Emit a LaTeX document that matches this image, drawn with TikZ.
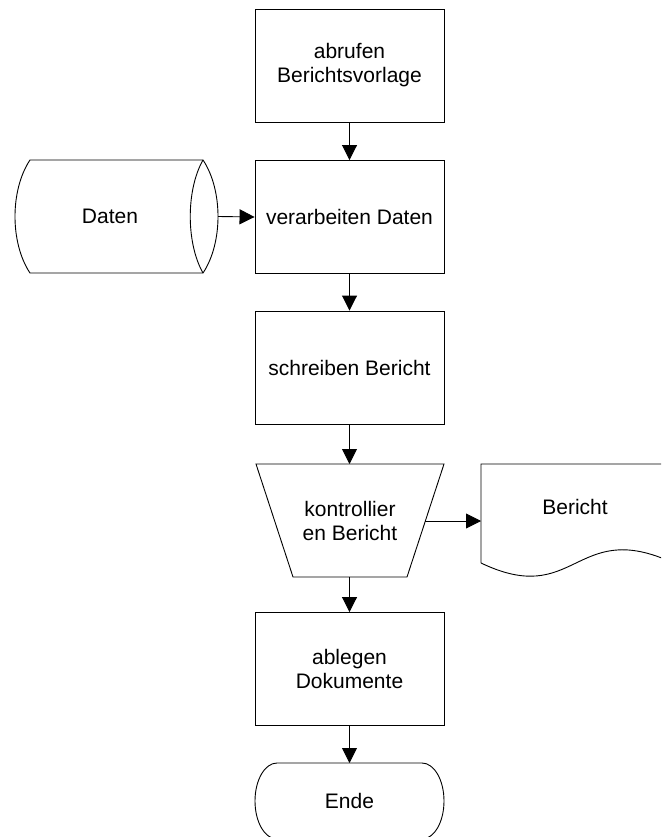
\documentclass[tikz,border=0pt]{standalone}
\usepackage{fontspec}
\setmainfont{Liberation Sans}
\usetikzlibrary{arrows.meta}
\begin{document}
\begin{tikzpicture}[x=1pt,y=1pt,
  line width=0.9pt,
  lbl/.style={font=\fontsize{21}{24}\selectfont, align=center, inner sep=0pt},
  procbox/.style={lbl, draw, rectangle, minimum width=189pt, minimum height=113pt},
  flow/.style={-{Triangle[length=15pt,width=15pt]}}
]
\clip (0,0) rectangle (661,-837);
\fill[white] (0,0) rectangle (661,-837);

% process steps
\node[procbox] (abrufen) at (349.5,-65.5) {abrufen\\Berichtsvorlage};
\node[procbox] (verarb) at (349.5,-217) {verarbeiten Daten};
\node[procbox] (schreiben) at (349.5,-367.5) {schreiben Bericht};
\node[procbox] (ablegen) at (349.5,-669) {ablegen\\Dokumente};

% stored data (horizontal cylinder)
\draw (30,-160) -- (203,-160)
  .. controls (223,-190) and (223,-243) .. (203,-273)
  -- (30,-273)
  .. controls (10,-243) and (10,-190) .. (30,-160) -- cycle;
\draw (203,-160) .. controls (186,-190) and (186,-243) .. (203,-273);
\node[lbl] (daten) at (110,-216.5) {Daten};
\coordinate (datenout) at (218,-216.5);

% manual operation (trapezoid)
\draw (256,-464) -- (444,-464) -- (407,-577) -- (293,-577) -- cycle;
\node[lbl] (kontrolle) at (350,-521) {kontrollier\\en Bericht};
\coordinate (kontrtop) at (349.5,-464);
\coordinate (kontrbot) at (349.5,-577);
\coordinate (kontrright) at (425.3,-521);

% document
\draw (481,-563) -- (481,-464) -- (669,-464) -- (669,-561)
  .. controls (575,-520) and (575,-608) .. (481,-563);
\node[lbl] (bericht) at (575,-507) {Bericht};
\coordinate (berichtin) at (481,-521);

% terminator
\draw (277,-763) -- (422,-763)
  arc[start angle=90,end angle=-90,x radius=22,y radius=38]
  -- (277,-839)
  arc[start angle=270,end angle=90,x radius=22,y radius=38] -- cycle;
\node[lbl] (ende) at (349.5,-801) {Ende};
\coordinate (endetop) at (349.5,-763);

% connectors
\draw[flow] (abrufen) -- (verarb);
\draw[flow] (datenout) -- (verarb.west);
\draw[flow] (verarb) -- (schreiben);
\draw[flow] (schreiben) -- (kontrtop);
\draw[flow] (kontrright) -- (berichtin);
\draw[flow] (kontrbot) -- (ablegen);
\draw[flow] (ablegen) -- (endetop);
\end{tikzpicture}
\end{document}
